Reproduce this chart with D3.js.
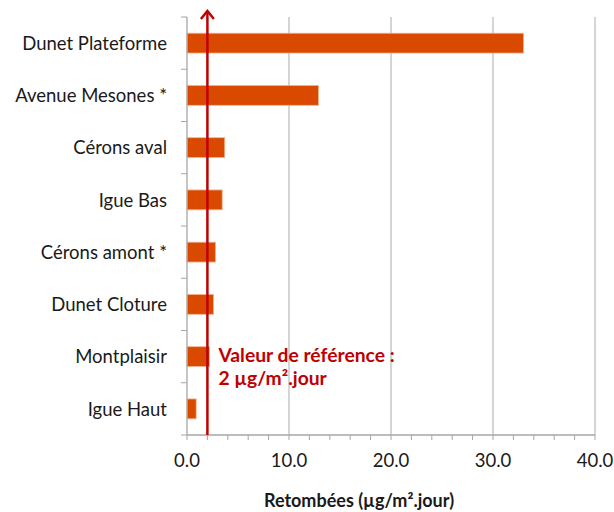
<!DOCTYPE html>
<html>
<head>
<meta charset="utf-8">
<script src="https://cdn.jsdelivr.net/npm/d3@7"></script>
<style>
  html, body { margin: 0; padding: 0; background: #fff; }
  svg { display: block; }
  text { font-family: Lato, "Open Sans", sans-serif; }
</style>
</head>
<body>
<svg id="chart" width="614" height="512"></svg>
<script>
// Sites, top to bottom
const sites = ["Dunet Plateforme", "Avenue Mesones *", "Cérons aval", "Igue Bas",
               "Cérons amont *", "Dunet Cloture", "Montplaisir", "Igue Haut"];
// Deposition per site (µg/m².jour)
const retombees = [33.0, 12.9, 3.7, 3.45, 2.8, 2.6, 2.2, 0.9];
// Reference value
const valeurReference = 2;
const xTicks = [0, 10, 20, 30, 40];
const xMinorTicks = d3.range(0, 40.01, 2);
const axisTitle = "Retombées (µg/m².jour)";
const refLabel = ["Valeur de référence :", "2 µg/m².jour"];

const svg = d3.select("#chart");
const plotLeft = 187, plotRight = 595, plotTop = 17, plotBottom = 435;

const x = d3.scaleLinear().domain([0, 40]).range([plotLeft, plotRight]);
const y = d3.scaleBand().domain(sites).range([plotTop, plotBottom]).paddingInner(0.62).paddingOuter(0.31);

const gridColor = "#bfbfbf";
const axisColor = "#a6a6a6";
const textColor = "#1a1a1a";

// vertical gridlines
svg.append("g")
  .selectAll("line")
  .data(xTicks.filter(d => d > 0))
  .join("line")
  .attr("x1", d => x(d)).attr("x2", d => x(d))
  .attr("y1", plotTop).attr("y2", plotBottom)
  .attr("stroke", gridColor).attr("stroke-width", 1.3);

// bars
svg.append("g")
  .selectAll("rect")
  .data(sites)
  .join("rect")
  .attr("x", x(0))
  .attr("y", d => y(d))
  .attr("width", (d, i) => x(retombees[i]) - x(0))
  .attr("height", y.bandwidth())
  .attr("fill", "#d94a00")
  .attr("stroke", "#f0b593")
  .attr("stroke-width", 0.8);

// x axis with minor ticks
const xAxisG = svg.append("g").attr("transform", `translate(0,${plotBottom})`);
xAxisG.append("line")
  .attr("x1", plotLeft).attr("x2", plotRight)
  .attr("stroke", axisColor).attr("stroke-width", 1.3);
xAxisG.selectAll("line.minor")
  .data(xMinorTicks)
  .join("line")
  .attr("class", "minor")
  .attr("x1", d => x(d)).attr("x2", d => x(d))
  .attr("y1", 0).attr("y2", 5)
  .attr("stroke", axisColor).attr("stroke-width", 1);
xAxisG.selectAll("text")
  .data(xTicks)
  .join("text")
  .attr("x", d => x(d))
  .attr("y", 32)
  .attr("text-anchor", "middle")
  .attr("font-size", 18.5)
  .attr("fill", textColor)
  .text(d => d3.format(".1f")(d));

// y axis with ticks between categories
const yAxisG = svg.append("g");
yAxisG.append("line")
  .attr("x1", plotLeft).attr("x2", plotLeft)
  .attr("y1", plotTop).attr("y2", plotBottom)
  .attr("stroke", axisColor).attr("stroke-width", 1.3);
yAxisG.selectAll("line.tick")
  .data(d3.range(sites.length + 1))
  .join("line")
  .attr("class", "tick")
  .attr("x1", plotLeft - 6).attr("x2", plotLeft)
  .attr("y1", i => plotTop + i * y.step())
  .attr("y2", i => plotTop + i * y.step())
  .attr("stroke", axisColor).attr("stroke-width", 1);
yAxisG.selectAll("text")
  .data(sites)
  .join("text")
  .attr("x", plotLeft - 20)
  .attr("y", d => y(d) + y.bandwidth() / 2)
  .attr("dy", "0.36em")
  .attr("text-anchor", "end")
  .attr("font-size", 18.5)
  .attr("fill", textColor)
  .text(d => d);

// reference line with arrow
const refColor = "#c00000";
const rx = x(valeurReference);
svg.append("line")
  .attr("x1", rx).attr("x2", rx)
  .attr("y1", plotBottom).attr("y2", 11)
  .attr("stroke", refColor).attr("stroke-width", 2.5);
svg.append("path")
  .attr("d", `M${rx - 6.5},${19} L${rx},${11} L${rx + 6.5},${19}`)
  .attr("fill", "none")
  .attr("stroke", refColor).attr("stroke-width", 2.5)
  .attr("stroke-linejoin", "miter");

svg.append("g")
  .selectAll("text")
  .data(refLabel)
  .join("text")
  .attr("x", rx + 11)
  .attr("y", (d, i) => 362 + i * 23)
  .attr("font-size", 19.3)
  .attr("font-weight", "bold")
  .attr("fill", refColor)
  .text(d => d);

// axis title
svg.append("text")
  .attr("x", 359)
  .attr("y", 507)
  .attr("text-anchor", "middle")
  .attr("font-size", 18)
  .attr("font-weight", "bold")
  .attr("fill", textColor)
  .text(axisTitle);
</script>
</body>
</html>
